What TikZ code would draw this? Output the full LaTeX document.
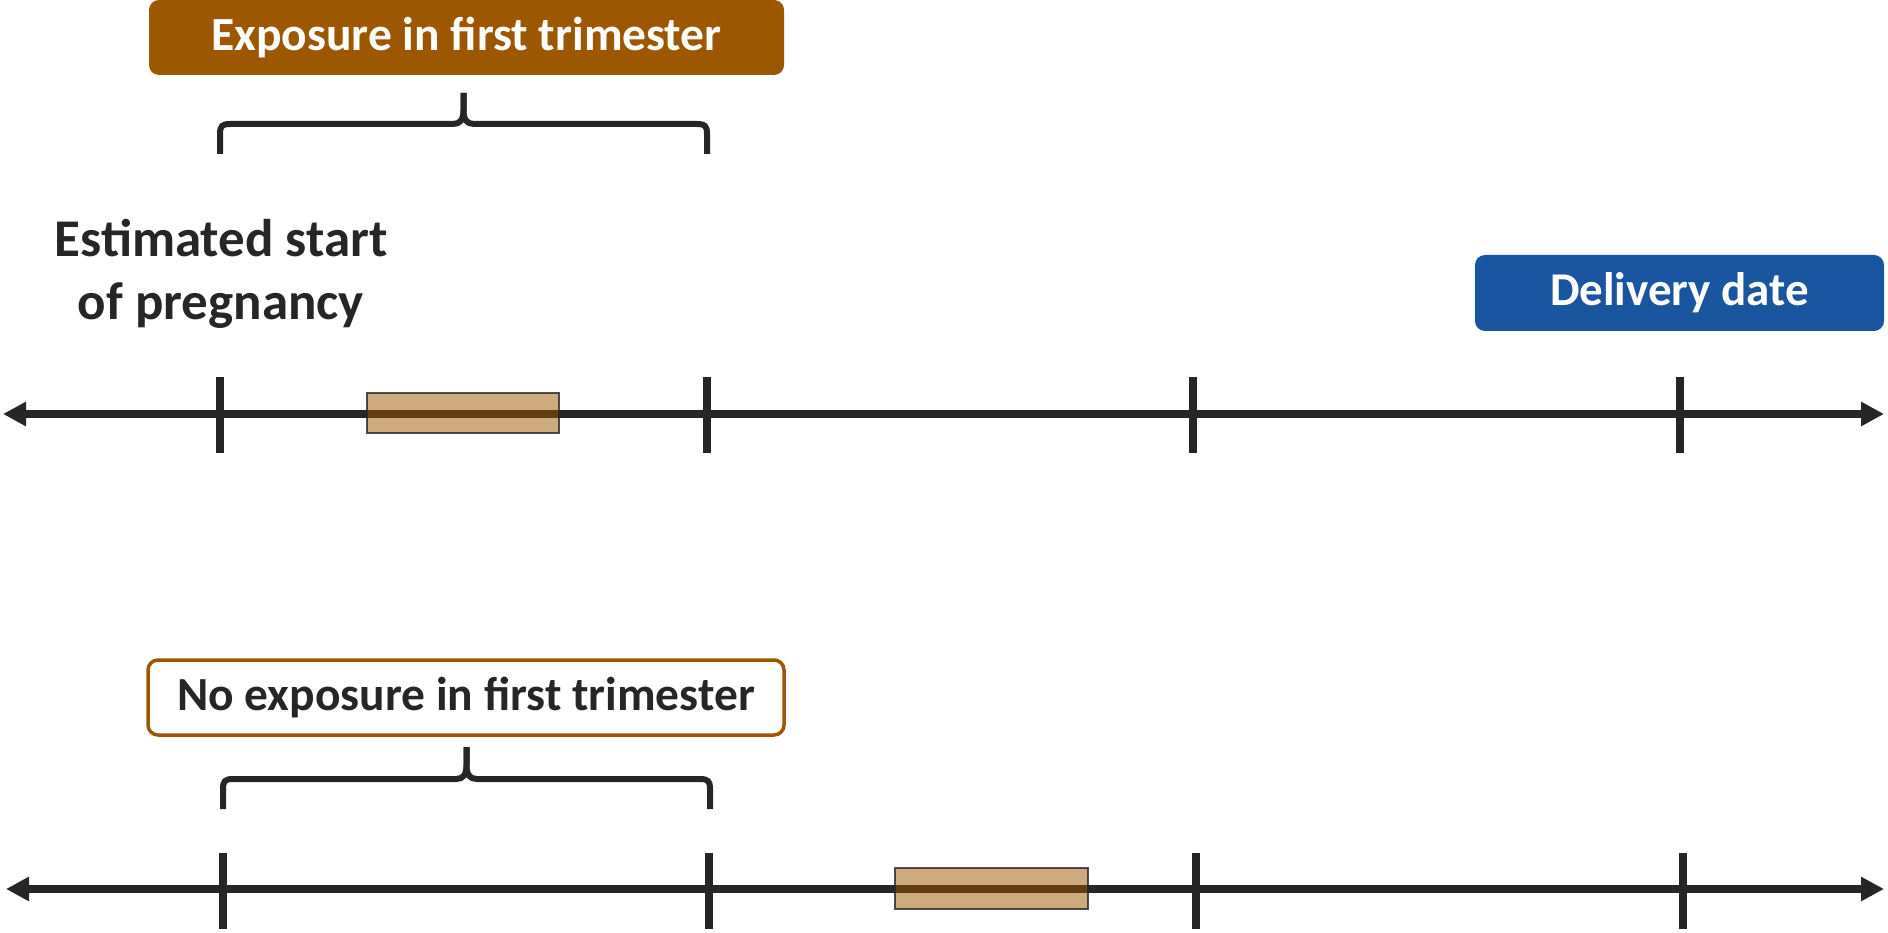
\documentclass[tikz,border=0pt]{standalone}
\usepackage{fontspec}
\setmainfont{Carlito}
\usetikzlibrary{arrows.meta}
\definecolor{dk}{HTML}{262626}
\definecolor{brn}{HTML}{9C5700}
\definecolor{blu}{HTML}{1A55A0}
\tikzset{
  axis/.style={draw=dk, line width=7.5pt, {Triangle[length=23pt,width=23pt]}-{Triangle[length=23pt,width=23pt]}},
  tick/.style={draw=dk, line width=7.5pt},
  expo/.style={fill=brn, fill opacity=0.5, draw=dk, draw opacity=0.8, line width=1.5pt},
  brace/.style={draw=dk, line width=6pt, line cap=butt, line join=round},
  lbl/.style={rounded corners=10pt, inner sep=0pt, font=\fontsize{47.5}{55}\selectfont\bfseries},
  txt/.style={inner sep=0pt, text=dk, font=\fontsize{53}{63}\selectfont\bfseries, align=center}
}
\begin{document}
\begin{tikzpicture}[x=1pt,y=-1pt]
\useasboundingbox (0,0) rectangle (1888,933);
% labels
\node[lbl, fill=brn, text=white, minimum width=635pt, minimum height=75pt] (top) at (466.5,37.5) {Exposure in first trimester};
\node[lbl, fill=blu, text=white, minimum width=409pt, minimum height=76pt, font=\fontsize{47}{55}\selectfont\bfseries] (deliv) at (1679.5,293) {Delivery date};
\node[lbl, draw=brn, line width=3.5pt, fill=white, text=dk, minimum width=636pt, minimum height=75pt] (bot) at (466,697.5) {No exposure in first trimester};
\node[txt] (start) at (221,274) {Estimated start\\of pregnancy};
% top brace
\coordinate (b1l) at (220,154); \coordinate (b1r) at (707,154); \coordinate (b1t) at (463.5,93);
\draw[brace] (b1l) -- (220,134) .. controls (220,126) and (222,124) .. (230,124) -- (453,124) .. controls (460,124) and (463.5,120) .. (463.5,110) -- (b1t);
\draw[brace] (b1r) -- (707,134) .. controls (707,126) and (705,124) .. (697,124) -- (474,124) .. controls (467,124) and (463.5,120) .. (463.5,110) -- (b1t);
% bottom brace
\coordinate (b2l) at (223,809); \coordinate (b2r) at (710,809); \coordinate (b2t) at (466.5,747);
\draw[brace] (b2l) -- (223,789) .. controls (223,781) and (225,779) .. (233,779) -- (456,779) .. controls (463,779) and (466.5,775) .. (466.5,765) -- (b2t);
\draw[brace] (b2r) -- (710,789) .. controls (710,781) and (708,779) .. (700,779) -- (477,779) .. controls (470,779) and (466.5,775) .. (466.5,765) -- (b2t);
% top timeline
\coordinate (a1l) at (3,414); \coordinate (a1r) at (1884,414);
\draw[axis] (a1l) -- (a1r);
\foreach \x/\n in {220/1,707/2,1193/3,1680/4}{
  \coordinate (t1\n a) at (\x,377); \coordinate (t1\n b) at (\x,453);
  \draw[tick] (t1\n a) -- (t1\n b);
}
\node[expo, inner sep=0pt, minimum width=192pt, minimum height=40pt] (e1) at (463,413) {};
% bottom timeline
\coordinate (a2l) at (6,889); \coordinate (a2r) at (1884,889);
\draw[axis] (a2l) -- (a2r);
\foreach \x/\n in {223/1,709/2,1196/3,1683/4}{
  \coordinate (t2\n a) at (\x,853); \coordinate (t2\n b) at (\x,929);
  \draw[tick] (t2\n a) -- (t2\n b);
}
\node[expo, inner sep=0pt, minimum width=193pt, minimum height=41pt] (e2) at (991.5,888.5) {};
\end{tikzpicture}
\end{document}
